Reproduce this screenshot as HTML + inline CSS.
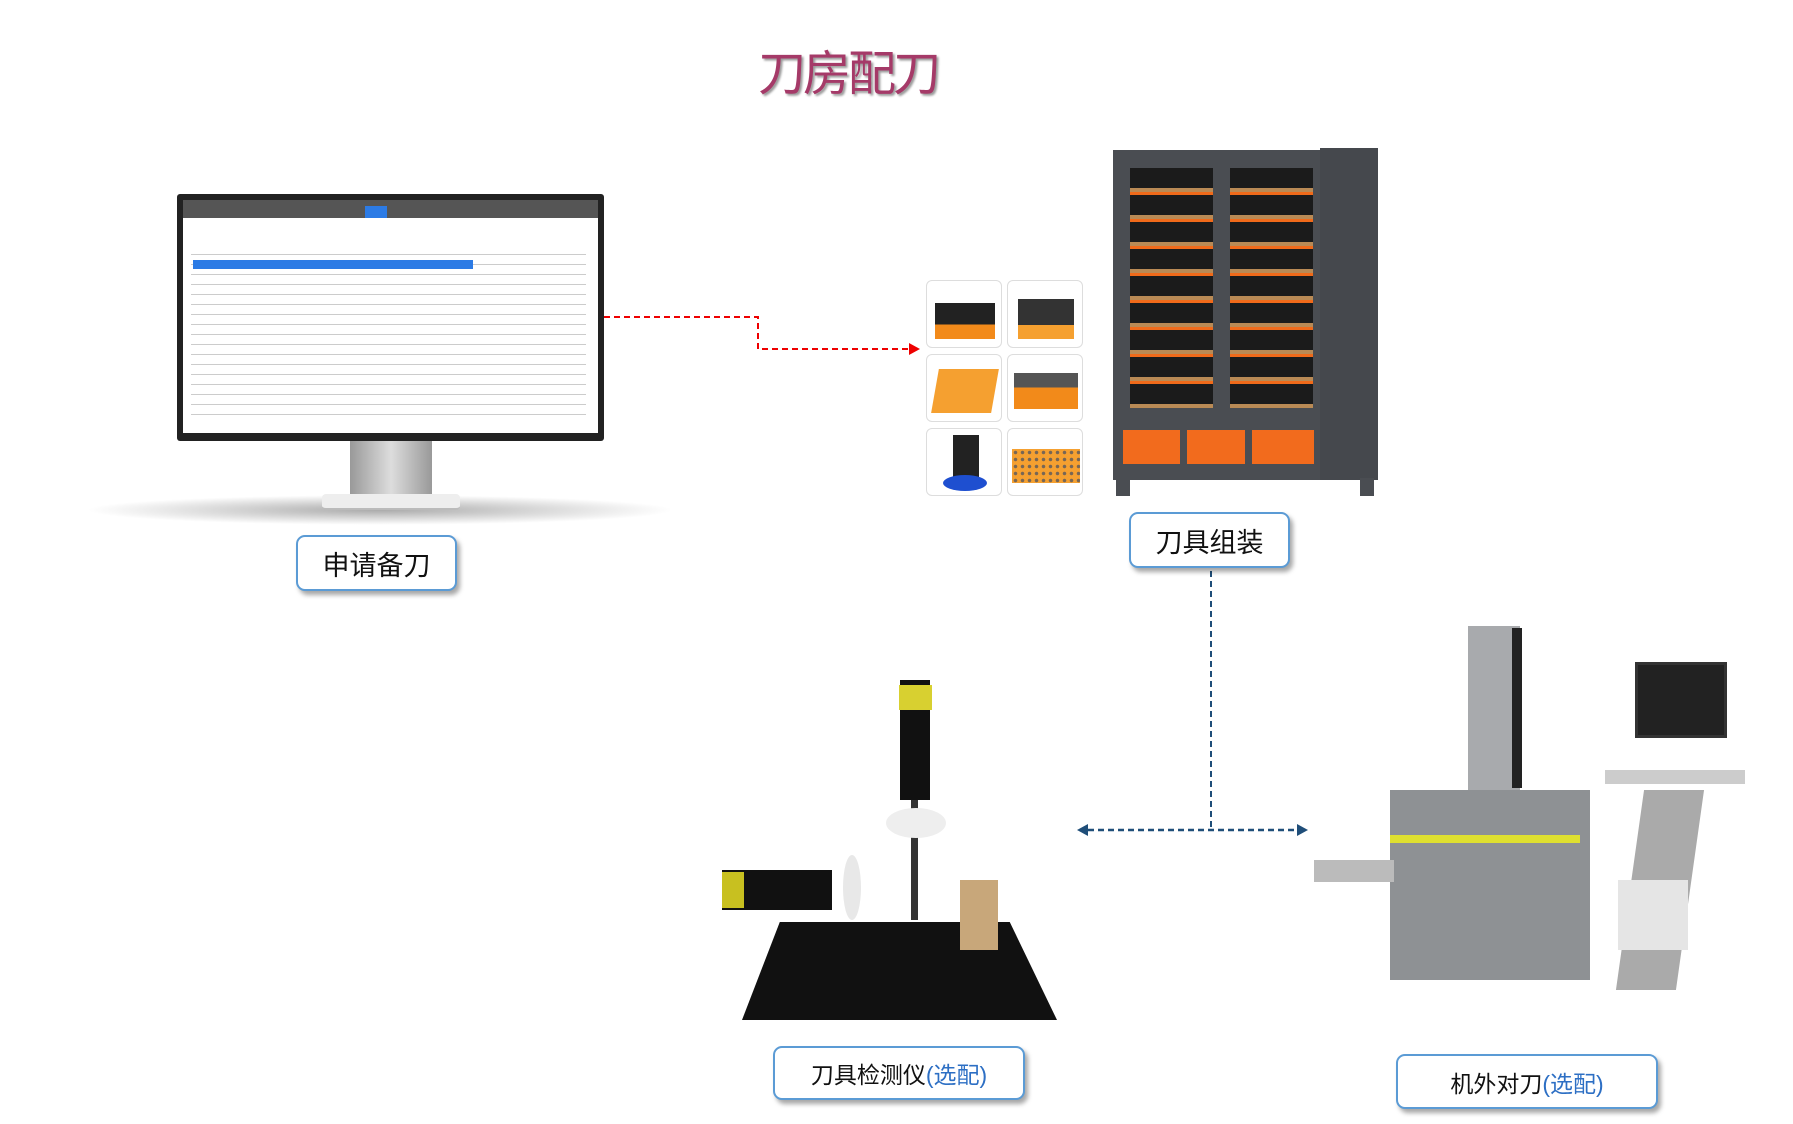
<!DOCTYPE html>
<html><head><meta charset="utf-8"><style>
body{margin:0;width:1793px;height:1124px;background:#fff;position:relative;overflow:hidden;font-family:"Liberation Sans","Noto Sans CJK SC",sans-serif}
.a{position:absolute}
.lbl{position:absolute;border:2px solid #5b9bd5;border-radius:9px;background:#fff;box-shadow:3px 4px 5px rgba(0,0,0,.35);display:flex;align-items:center;justify-content:center;color:#111;box-sizing:border-box}
.tile{position:absolute;width:76px;height:68px;border:1px solid #ddd;border-radius:6px;background:#fff;box-sizing:border-box}
</style></head><body>
<div class="a" style="left:0;top:34px;width:1696px;text-align:center;font-size:48px;color:#a53a68;text-shadow:2px 2px 2px #999;letter-spacing:-3px;font-family:'Noto Sans CJK SC',sans-serif">刀房配刀</div>

<!-- monitor -->
<div class="a" style="left:85px;top:495px;width:590px;height:30px;border-radius:50%;background:radial-gradient(ellipse,#aaa,rgba(255,255,255,0) 70%)"></div>
<div class="a" style="left:350px;top:441px;width:82px;height:55px;background:linear-gradient(90deg,#999,#ddd,#999)"></div>
<div class="a" style="left:322px;top:494px;width:138px;height:14px;background:#eee;border-radius:4px;border-bottom:2px solid #bbb"></div>
<div class="a" style="left:177px;top:194px;width:427px;height:247px;background:#222;border-radius:3px"></div>
<div class="a" style="left:183px;top:200px;width:415px;height:233px;background:#fff">
 <div style="height:18px;background:#555"></div>
 <div style="position:absolute;left:182px;top:6px;width:22px;height:12px;background:#2c7be5"></div>
 <div style="position:absolute;left:8px;top:45px;width:395px;height:170px;background:repeating-linear-gradient(#fff 0 9px,#ccc 9px 10px)"></div>
 <div style="position:absolute;left:10px;top:60px;width:280px;height:9px;background:#2c7be5"></div>
</div>
<div class="lbl" style="left:296px;top:535px;width:161px;height:56px;font-size:27px">申请备刀</div>

<svg class="a" style="left:0;top:0" width="1793" height="1124">
<polyline points="604,317 758,317 758,349 912,349" fill="none" stroke="#e00" stroke-width="2" stroke-dasharray="6,4"/>
<polygon points="920,349 909,343 909,355" fill="#e00"/>
<line x1="1211" y1="571" x2="1211" y2="830" stroke="#1f4e79" stroke-width="2" stroke-dasharray="6,4"/>
<line x1="1088" y1="830" x2="1298" y2="830" stroke="#1f4e79" stroke-width="2.5" stroke-dasharray="6,4"/>
<polygon points="1077,830 1088,824 1088,836" fill="#1f4e79"/>
<polygon points="1308,830 1297,824 1297,836" fill="#1f4e79"/>
</svg>

<!-- tiles -->
<div class="tile" style="left:926px;top:280px"><div class="a" style="left:8px;top:22px;width:60px;height:36px;background:linear-gradient(#222 60%,#f28a1a 60%)"></div></div>
<div class="tile" style="left:1007px;top:280px"><div class="a" style="left:10px;top:18px;width:56px;height:40px;background:linear-gradient(#333 65%,#f5a030 65%)"></div></div>
<div class="tile" style="left:926px;top:354px"><div class="a" style="left:8px;top:14px;width:60px;height:44px;background:#f5a030;transform:skewX(-10deg)"></div></div>
<div class="tile" style="left:1007px;top:354px"><div class="a" style="left:6px;top:18px;width:64px;height:36px;background:linear-gradient(#555 40%,#f28a1a 40%)"></div></div>
<div class="tile" style="left:926px;top:428px"><div class="a" style="left:26px;top:6px;width:26px;height:44px;background:#222"></div><div class="a" style="left:16px;top:46px;width:44px;height:16px;background:#1e4fd0;border-radius:50%"></div></div>
<div class="tile" style="left:1007px;top:428px"><div class="a" style="left:4px;top:20px;width:68px;height:34px;background:radial-gradient(circle,#765 1.5px,#f5a030 2px) 0 0/7px 7px"></div></div>

<!-- cabinet -->
<div class="a" style="left:1113px;top:150px;width:261px;height:330px;background:#4a4d52"></div>
<div class="a" style="left:1320px;top:148px;width:58px;height:332px;background:#45484d"></div>
<div class="a" style="left:1130px;top:168px;width:83px;height:240px;background:repeating-linear-gradient(#1b1b1b 0 20px,#b98a55 20px 24px,#f06a1a 24px 27px)"></div>
<div class="a" style="left:1230px;top:168px;width:83px;height:240px;background:repeating-linear-gradient(#1b1b1b 0 20px,#b98a55 20px 24px,#f06a1a 24px 27px)"></div>
<div class="a" style="left:1123px;top:430px;width:57px;height:34px;background:#f26b1d"></div>
<div class="a" style="left:1187px;top:430px;width:58px;height:34px;background:#f26b1d"></div>
<div class="a" style="left:1252px;top:430px;width:62px;height:34px;background:#f26b1d"></div>
<div class="a" style="left:1116px;top:478px;width:14px;height:18px;background:#4a4d52"></div>
<div class="a" style="left:1360px;top:478px;width:14px;height:18px;background:#4a4d52"></div>
<div class="lbl" style="left:1129px;top:512px;width:161px;height:56px;font-size:27px">刀具组装</div>

<!-- microscope -->
<div class="a" style="left:742px;top:922px;width:315px;height:98px;background:#111;clip-path:polygon(12% 0,85% 0,100% 100%,0 100%)"></div>
<div class="a" style="left:911px;top:740px;width:7px;height:180px;background:#333"></div>
<div class="a" style="left:900px;top:680px;width:30px;height:120px;background:#111"></div>
<div class="a" style="left:899px;top:685px;width:33px;height:25px;background:#d8d030"></div>
<div class="a" style="left:886px;top:808px;width:60px;height:30px;background:#eee;border-radius:50%"></div>
<div class="a" style="left:722px;top:870px;width:110px;height:40px;background:#111"></div>
<div class="a" style="left:722px;top:872px;width:22px;height:36px;background:#c8c020"></div>
<div class="a" style="left:843px;top:855px;width:18px;height:65px;background:#e8e8e8;border-radius:50%"></div>
<div class="a" style="left:960px;top:880px;width:38px;height:70px;background:#c8a77a"></div>
<div class="lbl" style="left:773px;top:1046px;width:252px;height:54px;font-size:23px">刀具检测仪<span style="color:#2d6fc4">(选配)</span></div>

<!-- zoller -->
<div class="a" style="left:1468px;top:626px;width:52px;height:165px;background:#a8aaad"></div>
<div class="a" style="left:1512px;top:628px;width:10px;height:160px;background:#222"></div>
<div class="a" style="left:1390px;top:790px;width:200px;height:190px;background:#8e9194"></div>
<div class="a" style="left:1390px;top:835px;width:190px;height:8px;background:#dfe030"></div>
<div class="a" style="left:1314px;top:860px;width:80px;height:22px;background:#bbb"></div>
<div class="a" style="left:1635px;top:662px;width:86px;height:70px;background:#222;border:3px solid #333"></div>
<div class="a" style="left:1605px;top:770px;width:140px;height:14px;background:#ccc"></div>
<div class="a" style="left:1630px;top:790px;width:60px;height:200px;background:#aaa;transform:skewX(-8deg)"></div>
<div class="a" style="left:1618px;top:880px;width:70px;height:70px;background:#e5e5e5"></div>
<div class="lbl" style="left:1396px;top:1054px;width:262px;height:55px;font-size:23px">机外对刀<span style="color:#2d6fc4">(选配)</span></div>
</body></html>
